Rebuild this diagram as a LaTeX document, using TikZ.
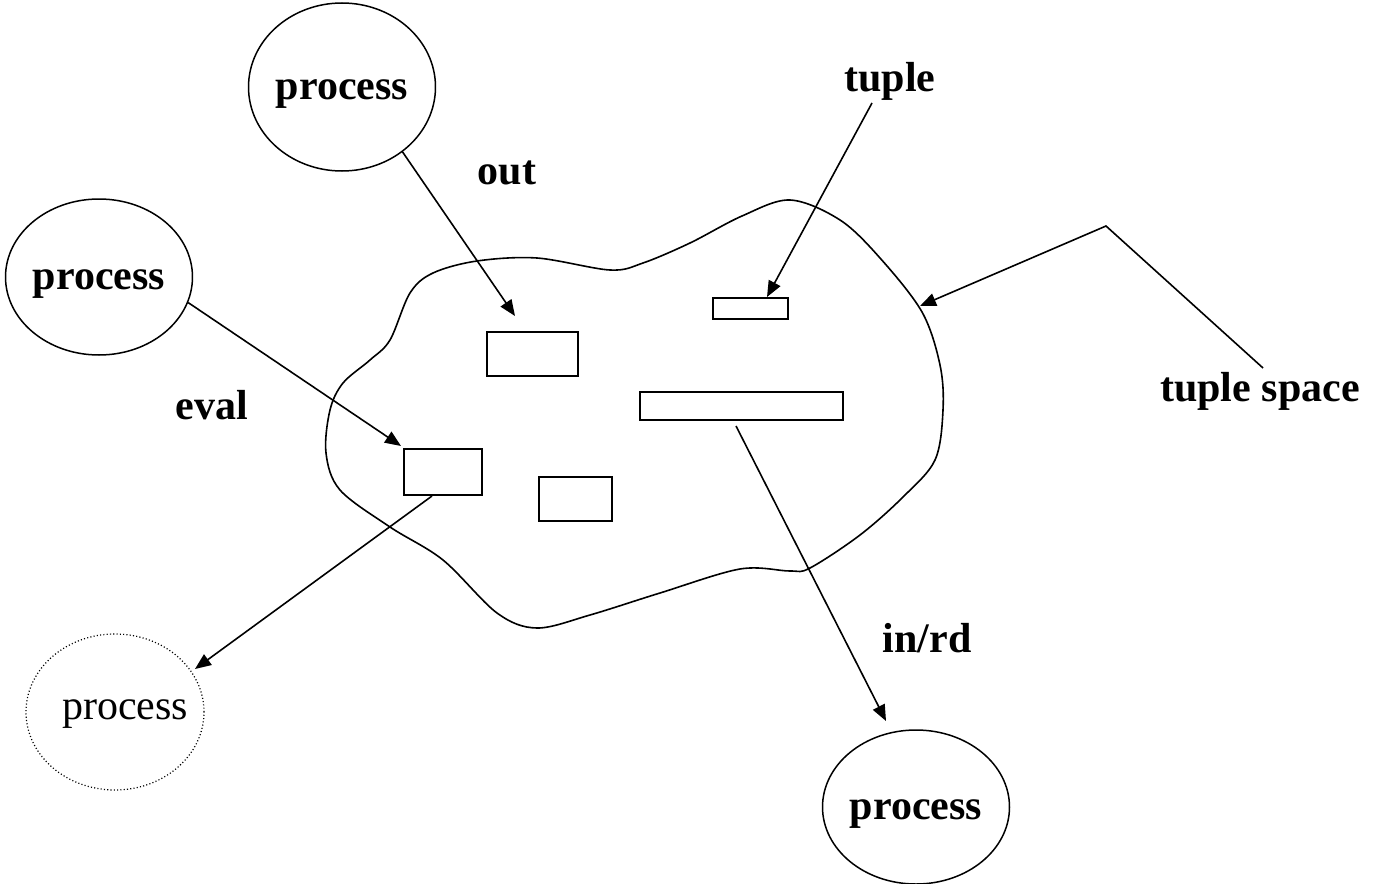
\documentclass[tikz,border=0pt]{standalone}
\usepackage{fontspec}
\setmainfont{Liberation Serif}
\usetikzlibrary{arrows.meta,shapes.geometric}
\tikzset{
  proc/.style={draw,ellipse,line width=0.75pt,inner sep=0pt,text height=17pt,text depth=4.6pt,font=\fontsize{21}{25}\selectfont\bfseries},
  dproc/.style={draw,ellipse,line width=0.6pt,dash pattern=on 0.55pt off 1.1pt,inner sep=0pt},
  tbox/.style={draw,rectangle,line width=1pt,inner sep=0pt},
  lbl/.style={inner sep=0pt,font=\fontsize{21}{25}\selectfont\bfseries},
  arr/.style={line width=0.8pt,-{Triangle[length=8pt,width=6.5pt]}},
  plain/.style={line width=0.8pt}
}
\begin{document}
\begin{tikzpicture}[x=0.5pt,y=-0.5pt]
\useasboundingbox (0,0) rectangle (1374,883);
% tuple space blob
\draw[line width=0.8pt] plot[smooth cycle,tension=0.55] coordinates {
 (433,273) (477,261) (537,258) (610,270) (643,263) (690,243) (742,216)
 (790,200) (840,220) (880,258) (922,312) (940,365) (943,410) (935,460) (903,497)
 (860,535) (810,568) (790,571) (740,569) (660,593) (590,615) (537,628)
 (497,613) (443,560) (390,527) (340,490) (326,453) (330,410) (343,383)
 (370,360) (390,340) (410,293)};
% processes
\node[proc,minimum width=88pt,minimum height=84pt] (p1) at (342,87) {process};
\node[proc,minimum width=89pt,minimum height=78pt] (p2) at (99,277) {process};
\node[dproc,minimum width=89pt,minimum height=78pt] (p3) at (115,712) {};
\node[inner sep=0pt,text height=17pt,text depth=4.6pt,font=\fontsize{21}{25}\selectfont] (p3t) at (125,707) {process};
\node[proc,minimum width=89pt,minimum height=77pt] (p4) at (916,807) {process};
% tuples
\node[tbox,minimum width=45.5pt,minimum height=22pt] (bA) at (532.5,354) {};
\node[tbox,minimum width=37.5pt,minimum height=10.5pt] (bB) at (750.5,308.5) {};
\node[tbox,minimum width=101.5pt,minimum height=14pt] (bC) at (741.5,406) {};
\node[tbox,minimum width=39pt,minimum height=23pt] (bD) at (443,472) {};
\node[tbox,minimum width=36.5pt,minimum height=22pt] (bE) at (575.5,499) {};
% labels
\node[lbl] (lout) at (507,173) {out};
\node[lbl] (ltuple) at (890,81) {tuple};
\node[lbl] (leval) at (212,405) {eval};
\node[lbl] (lts) at (1260,391) {tuple space};
\node[lbl] (linrd) at (927,638) {in/rd};
% coordinates for arrow ends
\coordinate (outtip) at (515,316);
\coordinate (evaltip) at (401,446);
\coordinate (dstart) at (432,496);
\coordinate (dtip) at (195,669);
\coordinate (cstart) at (736,426);
\coordinate (ctip) at (886,721);
\coordinate (tstart) at (872,103);
\coordinate (ttip) at (767,297);
\coordinate (tsstart) at (1263,368);
\coordinate (tskink) at (1106,226);
\coordinate (tstip) at (920,306);
% connectors
\draw[arr] (p1.-47.5) -- (outtip);
\draw[arr] (p2.-16) -- (evaltip);
\draw[arr] (dstart) -- (dtip);
\draw[arr] (cstart) -- (ctip);
\draw[arr] (tstart) -- (ttip);
\draw[arr] (tsstart) -- (tskink) -- (tstip);
\end{tikzpicture}
\end{document}
